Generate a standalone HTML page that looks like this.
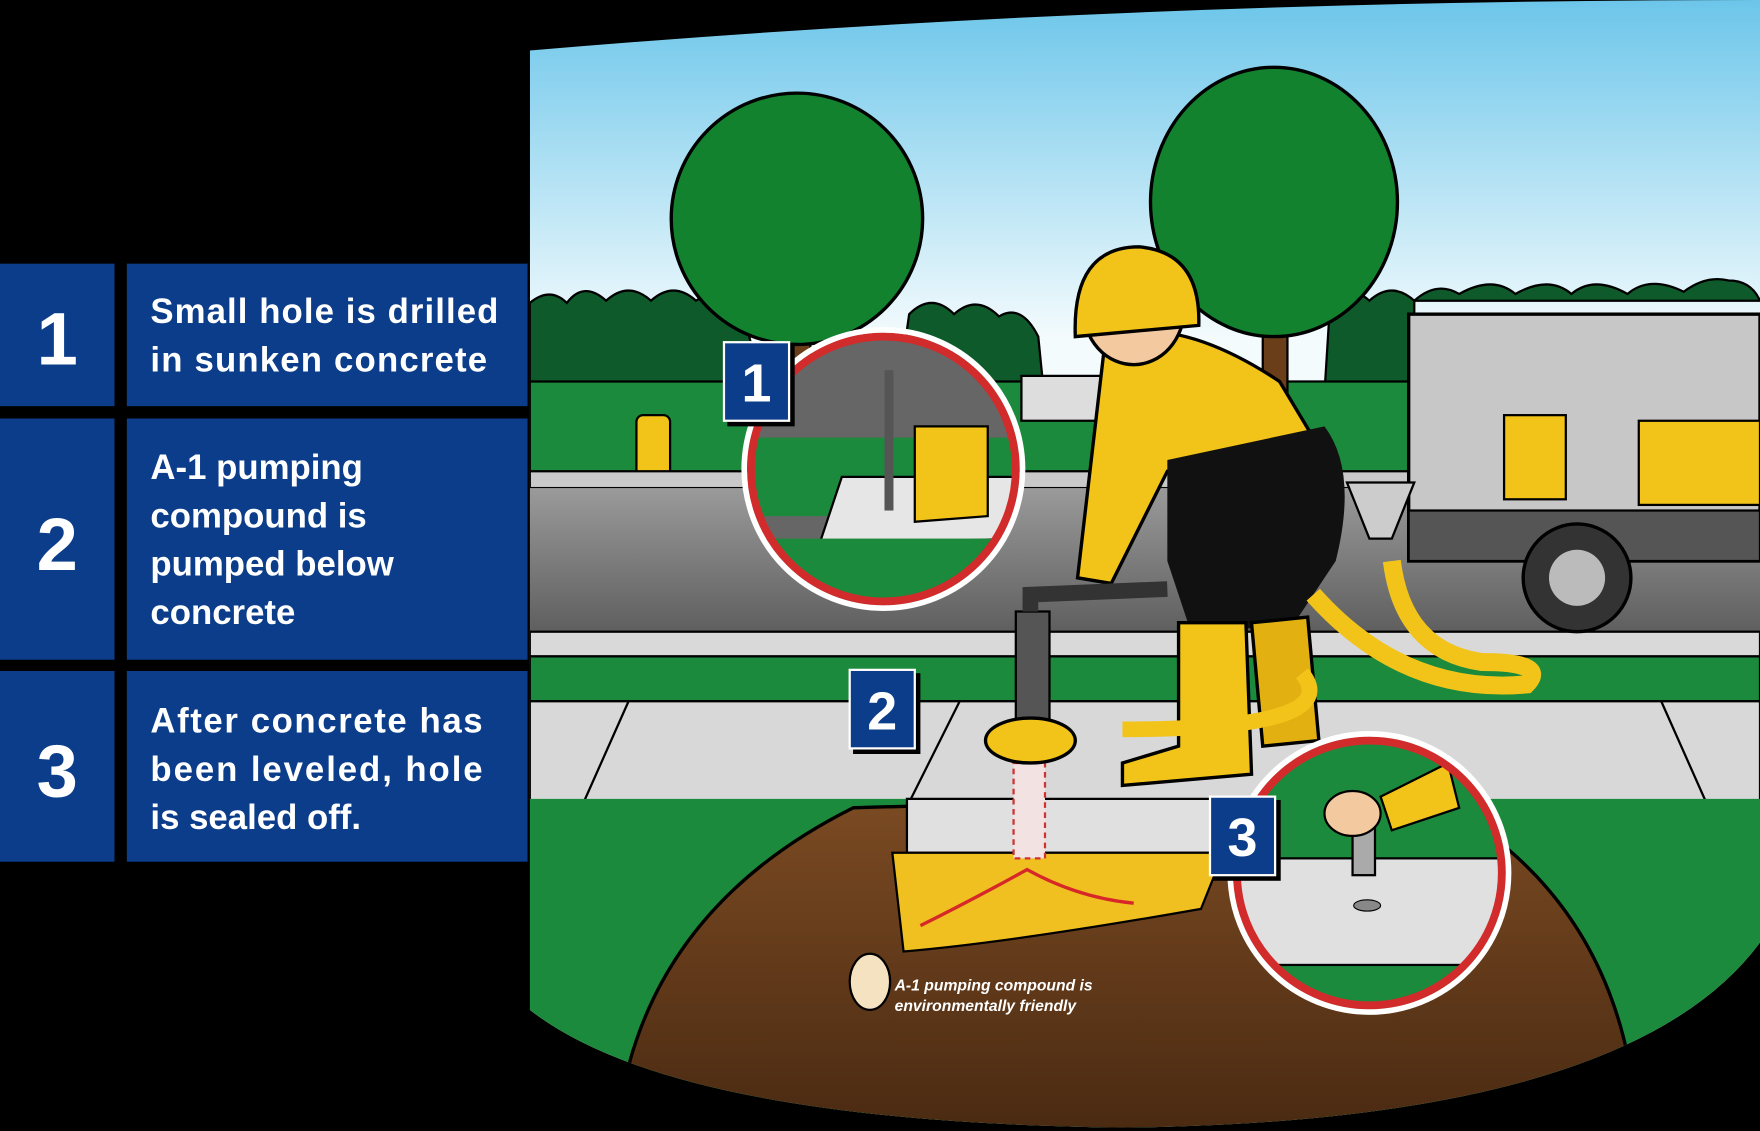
<!DOCTYPE html>
<html><head><meta charset="utf-8"><style>
html,body{margin:0;padding:0;background:#000;width:1760px;height:1131px;overflow:hidden}
svg{display:block}
</style></head><body>
<svg width="1760" height="1131" viewBox="0 0 1568 1008" preserveAspectRatio="none" xmlns="http://www.w3.org/2000/svg">
<defs>
<linearGradient id="sky" x1="0" y1="0" x2="0" y2="1"><stop offset="0" stop-color="#6cc6ea"/><stop offset="0.3" stop-color="#f4fbfd"/><stop offset="1" stop-color="#ffffff"/></linearGradient>
<linearGradient id="road" x1="0" y1="0" x2="0" y2="1"><stop offset="0" stop-color="#9a9a9a"/><stop offset="1" stop-color="#5e5e5e"/></linearGradient>
<linearGradient id="dirt" x1="0" y1="0" x2="0" y2="1"><stop offset="0" stop-color="#7a4a22"/><stop offset="1" stop-color="#4a2a12"/></linearGradient>
<clipPath id="scene"><path d="M472 45 Q1000 0 1568 0 L1568 840 Q1450 1000 1000 1005 Q600 1000 472 900 Z"/></clipPath>
<clipPath id="c1"><circle cx="787" cy="418" r="116"/></clipPath>
<clipPath id="c3"><circle cx="1220" cy="778" r="116"/></clipPath>
</defs>
<rect width="1568" height="1008" fill="#000"/>
<g font-family="Liberation Sans, sans-serif" fill="#fff" font-weight="bold">
<rect x="0" y="235" width="102" height="127" fill="#0b3d8a"/><rect x="113" y="235" width="357" height="127" fill="#0b3d8a"/>
<rect x="0" y="373" width="102" height="215" fill="#0b3d8a"/><rect x="113" y="373" width="357" height="215" fill="#0b3d8a"/>
<rect x="0" y="598" width="102" height="170" fill="#0b3d8a"/><rect x="113" y="598" width="357" height="170" fill="#0b3d8a"/>
<text x="51" y="325" font-size="66" text-anchor="middle">1</text>
<text x="51" y="508" font-size="66" text-anchor="middle">2</text>
<text x="51" y="710" font-size="66" text-anchor="middle">3</text>
<g font-size="31"><text x="134" y="288" textLength="310">Small hole is drilled</text><text x="134" y="331" textLength="300">in sunken concrete</text>
<text x="134" y="427">A-1 pumping</text><text x="134" y="470">compound is</text><text x="134" y="513">pumped below</text><text x="134" y="556">concrete</text>
<text x="134" y="653" textLength="296">After concrete has</text><text x="134" y="696" textLength="296">been leveled,  hole</text><text x="134" y="739">is sealed off.</text></g>
</g>
<g clip-path="url(#scene)">
<rect x="472" y="0" width="1096" height="1008" fill="url(#sky)"/>
<g fill="#0f5a2a" stroke="#000" stroke-width="2">
<path d="M472 350 L472 270 Q490 255 505 270 Q520 250 540 268 Q560 250 580 268 Q600 250 620 268 Q640 255 660 270 L680 350 Z"/>
<path d="M800 350 L810 280 Q830 260 850 280 Q870 262 890 282 Q910 270 925 300 L930 350 Z"/>
<path d="M1180 350 L1185 270 Q1200 250 1220 268 Q1240 250 1260 268 L1568 268 Q1560 250 1540 250 Q1520 245 1500 260 Q1470 245 1450 262 Q1420 245 1400 262 Q1380 245 1350 262 Q1330 245 1300 262 Q1280 250 1260 268 L1260 350 Z"/>
</g>
<rect x="472" y="340" width="1096" height="85" fill="#1c8a3c" stroke="#000" stroke-width="2"/>
<rect x="700" y="220" width="22" height="130" fill="#6b3e1a" stroke="#000" stroke-width="2"/>
<circle cx="710" cy="195" r="112" fill="#13822f" stroke="#000" stroke-width="3"/>
<rect x="1125" y="210" width="22" height="140" fill="#6b3e1a" stroke="#000" stroke-width="2"/>
<ellipse cx="1135" cy="180" rx="110" ry="120" fill="#13822f" stroke="#000" stroke-width="3"/>
<rect x="910" y="335" width="110" height="40" fill="#ddd" stroke="#000" stroke-width="2"/>
<rect x="567" y="370" width="30" height="75" rx="6" fill="#f2c419" stroke="#000" stroke-width="2"/>
<rect x="472" y="420" width="1096" height="15" fill="#c9c9c9" stroke="#000" stroke-width="2"/>
<rect x="472" y="435" width="1096" height="130" fill="url(#road)"/>
<rect x="472" y="563" width="1096" height="22" fill="#d9d9d9" stroke="#000" stroke-width="2"/>
<rect x="472" y="585" width="1096" height="40" fill="#1c8a3c" stroke="#000" stroke-width="2"/>
<rect x="1255" y="280" width="313" height="220" fill="#c7c7c7" stroke="#000" stroke-width="3"/>
<rect x="1460" y="375" width="108" height="75" fill="#f2c419" stroke="#000" stroke-width="2"/>
<rect x="1340" y="370" width="55" height="75" fill="#f2c419" stroke="#000" stroke-width="2"/>
<rect x="1255" y="455" width="313" height="45" fill="#555" stroke="#000" stroke-width="2"/>
<circle cx="1405" cy="515" r="48" fill="#333" stroke="#000" stroke-width="3"/><circle cx="1405" cy="515" r="25" fill="#bbb"/>
<path d="M1200 430 L1260 430 L1240 480 L1220 480 Z" fill="#ccc" stroke="#000" stroke-width="2"/>
<path d="M472 625 L1568 625 L1568 715 L472 715 Z" fill="#d8d8d8" stroke="#000" stroke-width="2"/>
<path d="M560 625 L520 715 M855 625 L810 715 M1480 625 L1520 715" stroke="#000" stroke-width="2"/>
<rect x="472" y="712" width="1096" height="300" fill="#1c8a3c"/>
<path d="M760 720 Q1000 712 1300 725 Q1420 800 1450 940 Q1300 1010 1000 1008 Q700 1008 560 950 Q600 800 760 720 Z" fill="url(#dirt)" stroke="#000" stroke-width="3"/>
<path d="M808 712 L1100 712 L1100 760 L808 760 Z" fill="#e0e0e0" stroke="#000" stroke-width="2"/>
<path d="M795 760 L1090 760 L1070 810 Q900 840 805 848 Z" fill="#f0c020" stroke="#000" stroke-width="2"/>
<path d="M820 825 Q870 800 915 775 Q960 800 1010 805" stroke="#d62828" stroke-width="3" fill="none"/>
<rect x="903" y="680" width="28" height="85" fill="#f2e2e2" stroke="#c33" stroke-width="2" stroke-dasharray="5 4"/>
<path d="M985 300 Q1050 280 1140 340 L1170 390 L1120 420 L1040 420 L990 520 L960 515 Z" fill="#f2c419" stroke="#000" stroke-width="3"/>
<path d="M1040 410 L1180 380 Q1210 420 1190 500 L1150 560 L1060 560 L1040 500 Z" fill="#111"/>
<path d="M1050 555 L1110 555 L1115 690 L1000 700 L1000 680 L1050 665 Z" fill="#f2c419" stroke="#000" stroke-width="3"/>
<path d="M1115 555 L1165 550 L1175 660 L1125 665 Z" fill="#e2b010" stroke="#000" stroke-width="3"/>
<ellipse cx="1010" cy="275" rx="45" ry="50" fill="#f3c9a0" stroke="#000" stroke-width="3"/>
<path d="M958 300 Q955 220 1015 220 Q1070 225 1068 290 Z" fill="#f2c419" stroke="#000" stroke-width="3"/>
<path d="M1170 530 Q1250 620 1360 610 Q1380 590 1320 590 Q1250 580 1240 500" stroke="#f2c419" stroke-width="16" fill="none"/>
<path d="M1160 600 Q1200 650 1000 650" stroke="#f2c419" stroke-width="14" fill="none"/>
<rect x="905" y="545" width="30" height="100" fill="#555" stroke="#000" stroke-width="2"/>
<ellipse cx="918" cy="660" rx="40" ry="20" fill="#f2c419" stroke="#000" stroke-width="3"/>
<path d="M918 545 L918 530 L1040 525" stroke="#333" stroke-width="14" fill="none"/>
<text x="797" y="883" font-family="Liberation Sans, sans-serif" font-size="14" font-weight="bold" font-style="italic" fill="#fff">A-1 pumping compound is</text>
<text x="797" y="901" font-family="Liberation Sans, sans-serif" font-size="14" font-weight="bold" font-style="italic" fill="#fff">environmentally friendly</text>
<ellipse cx="775" cy="875" rx="18" ry="25" fill="#f5e2c0" stroke="#000" stroke-width="2"/>
</g>
<g clip-path="url(#c1)">
<rect x="660" y="290" width="260" height="260" fill="#666"/>
<rect x="660" y="390" width="260" height="70" fill="#1c8a3c"/>
<path d="M750 425 L920 425 L910 480 L730 485 Z" fill="#e6e6e6" stroke="#000" stroke-width="2"/>
<rect x="660" y="480" width="260" height="80" fill="#1c8a3c"/>
<rect x="788" y="330" width="8" height="125" fill="#555"/>
<path d="M815 380 L880 380 L880 460 L815 465 Z" fill="#f2c419" stroke="#000" stroke-width="2"/>
</g>
<circle cx="787" cy="418" r="118" fill="none" stroke="#d12b2b" stroke-width="7"/>
<circle cx="787" cy="418" r="124" fill="none" stroke="#fff" stroke-width="5"/>
<g clip-path="url(#c3)">
<rect x="1100" y="660" width="240" height="240" fill="#1c8a3c"/>
<rect x="1100" y="765" width="240" height="95" fill="#e0e0e0" stroke="#000" stroke-width="2"/>
<ellipse cx="1218" cy="807" rx="12" ry="5" fill="#888" stroke="#000"/>
<rect x="1205" y="735" width="20" height="45" fill="#aaa" stroke="#000" stroke-width="2"/>
<ellipse cx="1205" cy="725" rx="25" ry="20" fill="#f3c9a0" stroke="#000" stroke-width="2"/>
<path d="M1230 710 L1290 680 L1300 720 L1240 740 Z" fill="#f2c419" stroke="#000" stroke-width="2"/>
</g>
<circle cx="1220" cy="778" r="118" fill="none" stroke="#d12b2b" stroke-width="7"/>
<circle cx="1220" cy="778" r="124" fill="none" stroke="#fff" stroke-width="5"/>
<g font-family="Liberation Sans, sans-serif" font-weight="bold" fill="#fff" font-size="48" text-anchor="middle">
<rect x="648" y="308" width="60" height="72" fill="#000"/><rect x="645" y="305" width="58" height="70" fill="#0b3d8a" stroke="#fff" stroke-width="2"/><text x="674" y="358">1</text>
<rect x="760" y="600" width="60" height="72" fill="#000"/><rect x="757" y="597" width="58" height="70" fill="#0b3d8a" stroke="#fff" stroke-width="2"/><text x="786" y="650">2</text>
<rect x="1081" y="713" width="60" height="72" fill="#000"/><rect x="1078" y="710" width="58" height="70" fill="#0b3d8a" stroke="#fff" stroke-width="2"/><text x="1107" y="763">3</text>
</g>
</svg>
</body></html>
